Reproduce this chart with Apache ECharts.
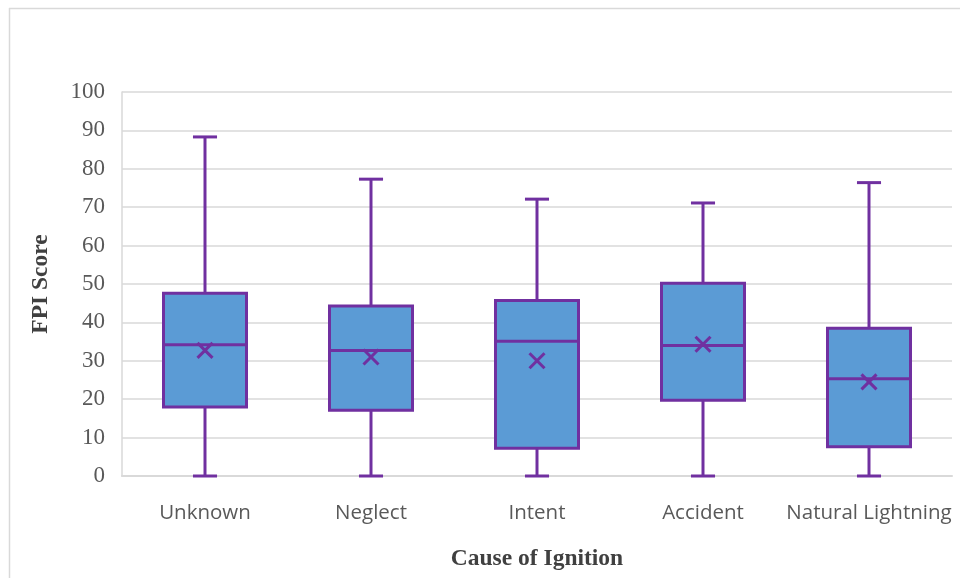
<!DOCTYPE html>
<html>
<head>
<meta charset="utf-8">
<script src="https://cdn.jsdelivr.net/npm/echarts@6/dist/echarts.min.js"></script>
<style>
html,body{margin:0;padding:0;background:#fff;}
#chart{width:960px;height:578px;}
</style>
</head>
<body>
<div id="chart"></div>
<script>
const categories = ['Unknown', 'Neglect', 'Intent', 'Accident', 'Natural Lightning'];
const minValues = [0, 0, 0, 0, 0];
const q1Values = [18.0, 17.1, 7.2, 19.7, 7.6];
const medianValues = [34.2, 32.7, 35.1, 34.0, 25.3];
const q3Values = [47.6, 44.3, 45.7, 50.2, 38.5];
const maxValues = [88.3, 77.3, 72.1, 71.1, 76.4];
const meanValues = [32.7, 31.0, 30.0, 34.3, 24.5];
const yTicks = [0, 10, 20, 30, 40, 50, 60, 70, 80, 90, 100];

const boxData = categories.map((c, i) => [i, minValues[i], q1Values[i], medianValues[i], q3Values[i], maxValues[i], meanValues[i]]);

const purple = '#7030a0';
const blue = '#5b9bd5';

const chart = echarts.init(document.getElementById('chart'), null, {renderer: 'canvas'});
chart.setOption({
  animation: false,
  backgroundColor: '#fff',
  graphic: [
    {type: 'line', shape: {x1: 9, y1: 8.5, x2: 960, y2: 8.5}, style: {stroke: '#d9d9d9', lineWidth: 1.5}, silent: true},
    {type: 'line', shape: {x1: 9.5, y1: 8, x2: 9.5, y2: 578}, style: {stroke: '#d9d9d9', lineWidth: 1.5}, silent: true}
  ],
  grid: {left: 122, right: 8, top: 92, bottom: 102, containLabel: false},
  xAxis: {
    type: 'category',
    data: categories,
    boundaryGap: true,
    name: 'Cause of Ignition',
    nameLocation: 'middle',
    nameGap: 71,
    nameTextStyle: {fontFamily: 'Liberation Serif', fontWeight: 'bold', fontSize: 23.5, color: '#404040'},
    axisLine: {lineStyle: {color: '#d9d9d9', width: 2}},
    axisTick: {show: false},
    axisLabel: {fontFamily: 'Open Sans', fontSize: 20.5, color: '#595959', margin: 27, interval: 0}
  },
  yAxis: {
    type: 'value',
    min: 0, max: 100, interval: 10,
    name: 'FPI Score',
    nameLocation: 'middle',
    nameGap: 69,
    nameRotate: 90,
    nameTextStyle: {fontFamily: 'Liberation Serif', fontWeight: 'bold', fontSize: 23.5, color: '#404040'},
    axisLine: {show: true, lineStyle: {color: '#d9d9d9', width: 1.5}},
    axisTick: {show: false},
    axisLabel: {fontFamily: 'Liberation Serif', fontSize: 23, color: '#595959', margin: 17,
      formatter: v => yTicks.indexOf(v) >= 0 ? String(v) : ''},
    splitLine: {lineStyle: {color: '#d9d9d9', width: 1.5}}
  },
  series: [{
    type: 'custom',
    data: boxData,
    encode: {x: 0, y: [1, 2, 3, 4, 5]},
    renderItem: function (params, api) {
      const idx = api.value(0);
      const pMin = api.coord([idx, api.value(1)]);
      const pQ1 = api.coord([idx, api.value(2)]);
      const pMed = api.coord([idx, api.value(3)]);
      const pQ3 = api.coord([idx, api.value(4)]);
      const pMax = api.coord([idx, api.value(5)]);
      const pMean = api.coord([idx, api.value(6)]);
      const band = api.size([1, 0])[0];
      const bw = band * 0.5;
      const cw = band * 0.145;
      const cx = pMed[0];
      const ls = {stroke: purple, lineWidth: 3, fill: null};
      const m = 7.5;
      return {
        type: 'group',
        children: [
          {type: 'line', shape: {x1: cx, y1: pQ3[1], x2: cx, y2: pMax[1]}, style: ls},
          {type: 'line', shape: {x1: cx, y1: pQ1[1], x2: cx, y2: pMin[1]}, style: ls},
          {type: 'line', shape: {x1: cx - cw / 2, y1: pMax[1], x2: cx + cw / 2, y2: pMax[1]}, style: ls},
          {type: 'line', shape: {x1: cx - cw / 2, y1: pMin[1], x2: cx + cw / 2, y2: pMin[1]}, style: ls},
          {type: 'rect', shape: {x: cx - bw / 2, y: pQ3[1], width: bw, height: pQ1[1] - pQ3[1]}, style: {fill: blue, stroke: purple, lineWidth: 3}},
          {type: 'line', shape: {x1: cx - bw / 2, y1: pMed[1], x2: cx + bw / 2, y2: pMed[1]}, style: ls},
          {type: 'line', shape: {x1: pMean[0] - m, y1: pMean[1] - m, x2: pMean[0] + m, y2: pMean[1] + m}, style: ls},
          {type: 'line', shape: {x1: pMean[0] - m, y1: pMean[1] + m, x2: pMean[0] + m, y2: pMean[1] - m}, style: ls}
        ]
      };
    }
  }]
});
</script>
</body>
</html>
